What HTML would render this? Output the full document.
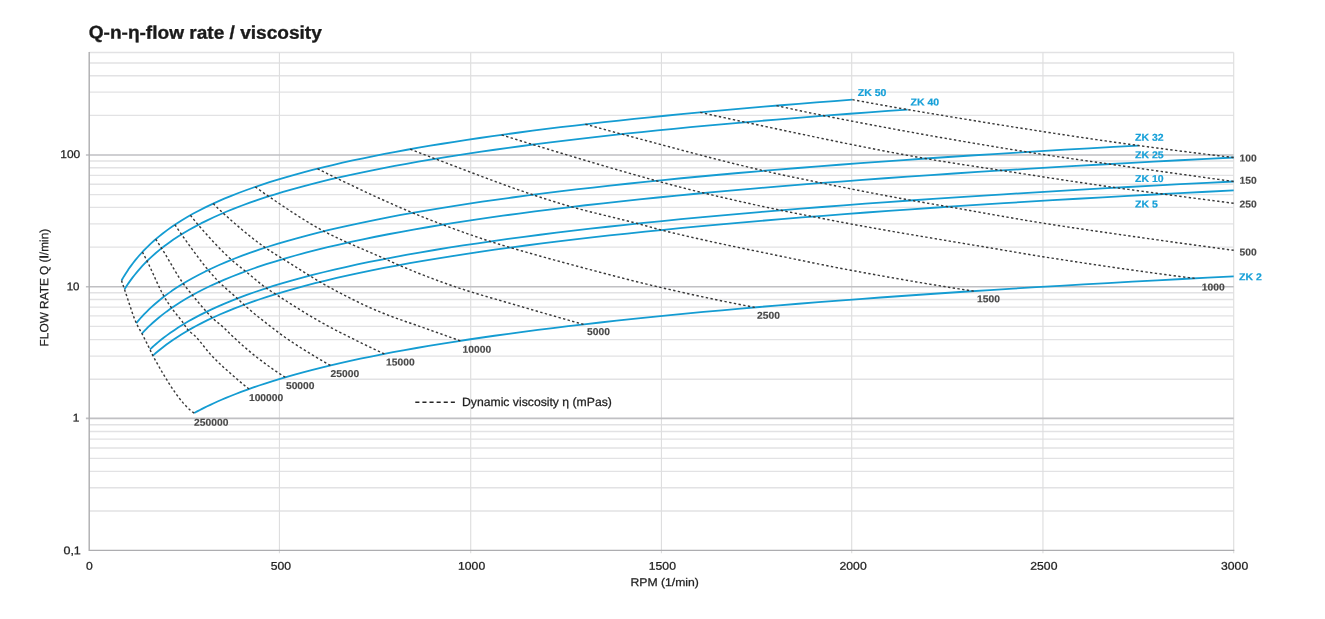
<!DOCTYPE html>
<html lang="en">
<head>
<meta charset="utf-8">
<title>Q-n-η-flow rate / viscosity</title>
<style>
html,body{margin:0;padding:0;background:#fff;}
body{width:1325px;height:619px;overflow:hidden;font-family:"Liberation Sans",Arial,Helvetica,sans-serif;}
svg{display:block;}
</style>
</head>
<body>
<svg width="1325" height="619" viewBox="0 0 1325 619">
<rect width="1325" height="619" fill="#fff"/>
<path d="M89.2 510.95H1233.7 M89.2 487.76H1233.7 M89.2 471.31H1233.7 M89.2 458.4H1233.7 M89.2 447.97H1233.7 M89.2 439.15H1233.7 M89.2 431.51H1233.7 M89.2 424.78H1233.7 M89.2 379.25H1233.7 M89.2 356.06H1233.7 M89.2 339.61H1233.7 M89.2 326.35H1233.7 M89.2 315.92H1233.7 M89.2 307.1H1233.7 M89.2 299.46H1233.7 M89.2 292.73H1233.7 M89.2 247.05H1233.7 M89.2 223.86H1233.7 M89.2 207.41H1233.7 M89.2 194.65H1233.7 M89.2 184.22H1233.7 M89.2 175.4H1233.7 M89.2 167.76H1233.7 M89.2 161.03H1233.7 M89.2 115.35H1233.7 M89.2 92.16H1233.7 M89.2 75.71H1233.7 M89.2 62.95H1233.7 M89.2 52.52H1233.7 M89.2 52.52H1233.7" stroke="#e2e2e4" stroke-width="1.35" fill="none"/>
<path d="M279.45 52.52V553.3 M470.7 52.52V553.3 M661.45 52.52V553.3 M851.7 52.52V553.3 M1042.95 52.52V553.3 M1233.7 52.52V553.3" stroke="#dededf" stroke-width="1.15" fill="none"/>
<path d="M85.9 418.4H1233.7 M85.9 286.7H1233.7 M85.9 155H1233.7" stroke="#c0c0c3" stroke-width="1.6" fill="none"/>
<path d="M89.2 51.92V550.4H1234.3" stroke="#adadb0" stroke-width="1.4" fill="none"/>
<path d="M121.5 280.54 L121.61 280.34 L121.96 279.73 L122.53 278.75 L123.33 277.39 L124.36 275.69 L125.61 273.69 L127.1 271.4 L128.81 268.87 L130.75 266.13 L132.92 263.22 L135.32 260.17 L137.95 257 L140.8 253.74 L143.88 250.42 L147.2 247.06 L150.74 243.67 L154.5 240.27 L158.5 236.87 L162.73 233.49 L167.18 230.12 L171.86 226.79 L176.77 223.49 L181.91 220.23 L187.28 217.01 L192.88 213.83 L198.7 210.71 L204.75 207.63 L211.04 204.6 L217.54 201.63 L224.28 198.7 L231.25 195.82 L238.44 193 L245.87 190.22 L253.52 187.49 L261.4 184.81 L269.51 182.18 L277.84 179.6 L286.41 177.06 L295.2 174.56 L304.23 172.11 L313.48 169.7 L322.95 167.33 L332.66 165.01 L342.6 162.72 L352.76 160.47 L363.15 158.26 L373.77 156.08 L384.62 153.94 L395.7 151.84 L407.01 149.76 L418.54 147.73 L430.31 145.72 L442.3 143.74 L454.52 141.8 L466.96 139.88 L479.64 137.99 L492.55 136.13 L505.68 134.3 L519.04 132.49 L532.63 130.71 L546.45 128.96 L560.5 127.23 L574.77 125.52 L589.28 123.84 L604.01 122.18 L618.97 120.54 L634.16 118.92 L649.58 117.33 L665.22 115.75 L681.1 114.2 L697.2 112.66 L713.53 111.14 L730.09 109.65 L746.88 108.17 L763.89 106.71 L781.14 105.26 L798.61 103.84 L816.31 102.43 L834.24 101.03 L852.4 99.66" stroke="#149cd2" stroke-width="1.8" fill="none" stroke-linejoin="round"/>
<path d="M124.5 289.36 L124.62 289.16 L124.99 288.57 L125.6 287.6 L126.46 286.27 L127.56 284.6 L128.9 282.63 L130.5 280.39 L132.33 277.9 L134.41 275.2 L136.74 272.34 L139.31 269.33 L142.12 266.2 L145.18 262.99 L148.48 259.71 L152.03 256.38 L155.82 253.03 L159.86 249.66 L164.14 246.3 L168.67 242.94 L173.44 239.61 L178.46 236.3 L183.72 233.02 L189.23 229.78 L194.98 226.59 L200.97 223.43 L207.21 220.33 L213.7 217.27 L220.43 214.26 L227.4 211.29 L234.62 208.38 L242.09 205.52 L249.8 202.7 L257.75 199.94 L265.95 197.22 L274.39 194.55 L283.08 191.93 L292.01 189.36 L301.19 186.83 L310.61 184.34 L320.27 181.89 L330.19 179.49 L340.34 177.13 L350.74 174.81 L361.39 172.53 L372.28 170.28 L383.41 168.08 L394.79 165.91 L406.42 163.77 L418.28 161.67 L430.4 159.6 L442.76 157.57 L455.36 155.56 L468.21 153.59 L481.3 151.65 L494.64 149.74 L508.22 147.85 L522.05 145.99 L536.12 144.17 L550.43 142.36 L564.99 140.58 L579.8 138.83 L594.85 137.1 L610.14 135.4 L625.68 133.72 L641.47 132.06 L657.5 130.42 L673.77 128.81 L690.29 127.21 L707.05 125.64 L724.06 124.09 L741.31 122.55 L758.81 121.04 L776.55 119.54 L794.54 118.07 L812.77 116.61 L831.25 115.16 L849.97 113.74 L868.93 112.33 L888.14 110.94 L907.6 109.56" stroke="#149cd2" stroke-width="1.8" fill="none" stroke-linejoin="round"/>
<path d="M136.3 323.06 L136.46 322.87 L136.93 322.31 L137.71 321.38 L138.81 320.1 L140.21 318.5 L141.94 316.6 L143.97 314.43 L146.32 312.03 L148.98 309.42 L151.96 306.65 L155.25 303.72 L158.85 300.69 L162.76 297.56 L166.99 294.36 L171.53 291.12 L176.39 287.84 L181.56 284.55 L187.04 281.25 L192.83 277.96 L198.94 274.69 L205.36 271.43 L212.09 268.21 L219.14 265.02 L226.5 261.87 L234.17 258.76 L242.16 255.69 L250.46 252.67 L259.07 249.69 L268 246.76 L277.23 243.88 L286.79 241.05 L296.65 238.26 L306.83 235.52 L317.32 232.83 L328.13 230.18 L339.25 227.58 L350.68 225.02 L362.42 222.51 L374.48 220.04 L386.85 217.61 L399.53 215.23 L412.53 212.88 L425.84 210.57 L439.47 208.3 L453.4 206.07 L467.65 203.88 L482.22 201.72 L497.09 199.59 L512.28 197.5 L527.78 195.44 L543.6 193.42 L559.73 191.42 L576.17 189.46 L592.93 187.52 L610 185.61 L627.38 183.74 L645.07 181.89 L663.08 180.06 L681.4 178.27 L700.04 176.49 L718.99 174.75 L738.25 173.02 L757.82 171.32 L777.71 169.65 L797.91 167.99 L818.42 166.36 L839.25 164.75 L860.39 163.16 L881.84 161.59 L903.61 160.04 L925.69 158.51 L948.08 157 L970.79 155.51 L993.81 154.03 L1017.14 152.58 L1040.79 151.14 L1064.74 149.72 L1089.02 148.31 L1113.6 146.92 L1138.5 145.55" stroke="#149cd2" stroke-width="1.8" fill="none" stroke-linejoin="round"/>
<path d="M141.9 333.54 L142.07 333.35 L142.58 332.8 L143.44 331.9 L144.63 330.65 L146.16 329.09 L148.04 327.23 L150.26 325.12 L152.82 322.77 L155.72 320.22 L158.96 317.5 L162.54 314.63 L166.47 311.65 L170.73 308.58 L175.34 305.44 L180.28 302.24 L185.57 299.01 L191.2 295.77 L197.17 292.51 L203.48 289.26 L210.14 286.03 L217.13 282.81 L224.47 279.62 L232.14 276.46 L240.16 273.34 L248.52 270.26 L257.22 267.22 L266.26 264.22 L275.65 261.27 L285.37 258.36 L295.43 255.5 L305.84 252.68 L316.59 249.91 L327.68 247.19 L339.11 244.51 L350.88 241.88 L362.99 239.29 L375.44 236.75 L388.24 234.25 L401.37 231.79 L414.85 229.37 L428.67 226.99 L442.83 224.66 L457.33 222.36 L472.17 220.1 L487.35 217.87 L502.88 215.69 L518.74 213.53 L534.95 211.41 L551.5 209.33 L568.38 207.28 L585.61 205.26 L603.19 203.27 L621.1 201.31 L639.35 199.38 L657.95 197.48 L676.88 195.6 L696.16 193.76 L715.78 191.94 L735.74 190.14 L756.04 188.38 L776.68 186.63 L797.66 184.91 L818.99 183.22 L840.65 181.54 L862.66 179.89 L885.01 178.26 L907.7 176.66 L930.73 175.07 L954.1 173.5 L977.81 171.95 L1001.86 170.43 L1026.26 168.92 L1050.99 167.43 L1076.07 165.96 L1101.49 164.5 L1127.25 163.06 L1153.35 161.64 L1179.79 160.24 L1206.58 158.85 L1233.7 157.48" stroke="#149cd2" stroke-width="1.8" fill="none" stroke-linejoin="round"/>
<path d="M149.9 349.45 L150.07 349.29 L150.58 348.82 L151.42 348.04 L152.61 346.96 L154.13 345.6 L156 343.98 L158.2 342.13 L160.74 340.06 L163.62 337.8 L166.83 335.38 L170.39 332.82 L174.29 330.14 L178.52 327.36 L183.09 324.51 L188 321.59 L193.25 318.63 L198.84 315.64 L204.77 312.62 L211.03 309.6 L217.64 306.59 L224.58 303.57 L231.86 300.58 L239.48 297.6 L247.44 294.65 L255.74 291.73 L264.38 288.83 L273.35 285.98 L282.67 283.15 L292.32 280.37 L302.31 277.62 L312.64 274.92 L323.31 272.25 L334.32 269.62 L345.66 267.03 L357.35 264.48 L369.37 261.97 L381.73 259.51 L394.43 257.07 L407.47 254.68 L420.85 252.33 L434.57 250.01 L448.62 247.73 L463.02 245.48 L477.75 243.27 L492.82 241.09 L508.23 238.95 L523.98 236.84 L540.07 234.76 L556.49 232.71 L573.26 230.7 L590.36 228.71 L607.81 226.76 L625.59 224.83 L643.71 222.93 L662.16 221.05 L680.96 219.21 L700.1 217.39 L719.57 215.59 L739.39 213.82 L759.54 212.08 L780.03 210.35 L800.86 208.66 L822.03 206.98 L843.53 205.33 L865.38 203.69 L887.56 202.08 L910.08 200.49 L932.95 198.92 L956.15 197.37 L979.68 195.83 L1003.56 194.32 L1027.78 192.83 L1052.33 191.35 L1077.23 189.89 L1102.46 188.45 L1128.03 187.02 L1153.94 185.61 L1180.19 184.22 L1206.77 182.84 L1233.7 181.48" stroke="#149cd2" stroke-width="1.8" fill="none" stroke-linejoin="round"/>
<path d="M152.8 355.68 L152.97 355.53 L153.48 355.08 L154.32 354.33 L155.5 353.3 L157.02 352.01 L158.88 350.46 L161.08 348.69 L163.61 346.71 L166.48 344.54 L169.69 342.21 L173.24 339.75 L177.12 337.16 L181.34 334.48 L185.9 331.72 L190.8 328.89 L196.04 326.02 L201.61 323.11 L207.52 320.18 L213.77 317.23 L220.36 314.29 L227.28 311.34 L234.54 308.41 L242.14 305.5 L250.08 302.6 L258.36 299.73 L266.97 296.89 L275.92 294.08 L285.21 291.31 L294.84 288.56 L304.8 285.86 L315.1 283.19 L325.74 280.56 L336.72 277.96 L348.04 275.4 L359.69 272.89 L371.68 270.4 L384.01 267.96 L396.68 265.55 L409.68 263.19 L423.03 260.85 L436.71 258.56 L450.72 256.29 L465.08 254.07 L479.77 251.87 L494.8 249.71 L510.17 247.59 L525.88 245.49 L541.92 243.43 L558.31 241.39 L575.03 239.39 L592.08 237.42 L609.48 235.47 L627.21 233.55 L645.29 231.66 L663.69 229.8 L682.44 227.97 L701.53 226.15 L720.95 224.37 L740.71 222.61 L760.81 220.87 L781.24 219.15 L802.02 217.46 L823.13 215.79 L844.58 214.15 L866.36 212.52 L888.49 210.91 L910.95 209.33 L933.75 207.76 L956.89 206.22 L980.36 204.69 L1004.18 203.18 L1028.33 201.69 L1052.82 200.22 L1077.65 198.76 L1102.81 197.33 L1128.31 195.91 L1154.15 194.5 L1180.33 193.11 L1206.85 191.74 L1233.7 190.38" stroke="#149cd2" stroke-width="1.8" fill="none" stroke-linejoin="round"/>
<path d="M194.1 413.06 L194.26 412.98 L194.75 412.71 L195.56 412.27 L196.7 411.66 L198.16 410.89 L199.95 409.96 L202.06 408.88 L204.5 407.66 L207.26 406.31 L210.34 404.83 L213.75 403.24 L217.49 401.55 L221.55 399.77 L225.94 397.9 L230.65 395.97 L235.68 393.97 L241.04 391.91 L246.73 389.81 L252.74 387.67 L259.07 385.49 L265.73 383.29 L272.72 381.07 L280.03 378.84 L287.66 376.6 L295.62 374.35 L303.91 372.1 L312.52 369.85 L321.45 367.6 L330.71 365.37 L340.29 363.14 L350.2 360.93 L360.44 358.73 L370.99 356.54 L381.88 354.38 L393.09 352.23 L404.62 350.1 L416.48 347.99 L428.66 345.9 L441.17 343.83 L454 341.78 L467.16 339.75 L480.64 337.75 L494.45 335.76 L508.58 333.8 L523.04 331.86 L537.82 329.95 L552.92 328.05 L568.36 326.18 L584.11 324.33 L600.19 322.5 L616.6 320.69 L633.33 318.91 L650.39 317.14 L667.77 315.4 L685.47 313.67 L703.5 311.97 L721.86 310.29 L740.54 308.62 L759.54 306.98 L778.88 305.35 L798.53 303.74 L818.51 302.15 L838.81 300.58 L859.44 299.03 L880.4 297.5 L901.68 295.98 L923.28 294.48 L945.21 292.99 L967.46 291.52 L990.04 290.07 L1012.95 288.64 L1036.18 287.22 L1059.73 285.81 L1083.61 284.42 L1107.81 283.05 L1132.34 281.68 L1157.19 280.34 L1182.37 279 L1207.87 277.69 L1233.7 276.38" stroke="#149cd2" stroke-width="1.8" fill="none" stroke-linejoin="round"/>
<g stroke="#383838" stroke-width="1.42" fill="none">
<path d="M121.5 280.54 L122.5 283.49 L123.5 286.44 L124.5 289.36 L125.57 292.52 L126.65 295.77 L127.72 299.05 L128.79 302.35 L129.86 305.62 L130.94 308.85 L132.01 311.99 L133.08 315.01 L134.15 317.88 L135.23 320.58 L136.3 323.06 L138.17 326.81 L140.03 330.14 L141.9 333.54 L143.5 336.63 L145.1 339.76 L146.7 342.94 L148.3 346.16 L149.9 349.45 L151.35 352.67 L152.8 355.68 L154.6 358.91 L156.39 362.1 L158.19 365.27 L159.98 368.41 L161.78 371.5 L163.57 374.54 L165.37 377.53 L167.17 380.46 L168.96 383.32 L170.76 386.11 L172.55 388.83 L174.35 391.46 L176.14 393.99 L177.94 396.44 L179.73 398.78 L181.53 401.01 L183.33 403.12 L185.12 405.12 L186.92 406.98 L188.71 408.72 L190.51 410.32 L192.3 411.77 L194.1 413.06" stroke-dasharray="2.351 2.351"/>
<path d="M142.4 252 L143.97 254.97 L145.53 257.98 L147.1 261.06 L148.41 263.71 L149.72 266.45 L151.02 269.26 L152.33 272.13 L153.64 275.01 L154.95 277.91 L156.25 280.78 L157.56 283.62 L158.87 286.41 L160.18 289.11 L161.48 291.71 L162.79 294.19 L164.1 296.53 L165.97 299.65 L167.85 302.55 L169.72 305.31 L171.6 307.97 L173.67 310.77 L175.73 313.4 L177.8 315.95 L179.87 318.5 L181.93 321.14 L184 323.95 L186.1 327.35 L188.2 330.37 L191.1 332.79 L194 335 L196 336.97 L198 339.15 L200 341.51 L202 343.97 L204 346.49 L206 349.01 L208 351.47 L210 353.82 L212 356 L214.29 358.34 L216.58 360.63 L218.87 362.85 L221.16 365.02 L223.45 367.15 L225.75 369.24 L228.04 371.29 L230.33 373.32 L232.62 375.33 L234.91 377.32 L237.2 379.3 L239.56 381.31 L241.92 383.29 L244.28 385.22 L246.64 387.12 L249 388.99" stroke-dasharray="2.345 2.345"/>
<path d="M155.7 239.23 L157.67 242.21 L159.63 245.22 L161.6 248.27 L163.26 250.93 L164.92 253.65 L166.58 256.44 L168.25 259.26 L169.91 262.11 L171.57 264.96 L173.23 267.79 L174.89 270.6 L176.55 273.36 L178.22 276.05 L179.88 278.65 L181.54 281.15 L183.2 283.54 L185.5 286.62 L187.8 289.52 L190.1 292.31 L192.4 295.1 L194.41 297.56 L196.43 300 L198.44 302.43 L200.46 304.83 L202.47 307.19 L204.49 309.51 L206.5 311.77 L209.4 314.96 L212.3 317.91 L214.8 320.15 L217.3 322.2 L219.8 324.22 L222.3 326.35 L224.6 328.46 L226.9 330.65 L229.2 332.9 L231.5 335.15 L233.8 337.36 L236.1 339.5 L238.49 341.67 L240.88 343.82 L243.26 345.95 L245.65 348.05 L248.04 350.11 L250.42 352.13 L252.81 354.1 L255.2 356 L257.71 357.95 L260.22 359.88 L262.73 361.78 L265.23 363.65 L267.74 365.49 L270.25 367.29 L272.76 369.06 L275.27 370.79 L277.77 372.47 L280.28 374.12 L282.79 375.72 L285.3 377.28" stroke-dasharray="2.364 2.364"/>
<path d="M174.9 224.73 L177.1 228 L179.3 231.23 L181.5 234.38 L183.41 237.07 L185.31 239.75 L187.22 242.42 L189.13 245.08 L191.04 247.72 L192.94 250.34 L194.85 252.94 L196.76 255.5 L198.66 258.03 L200.57 260.53 L202.48 262.98 L204.39 265.39 L206.29 267.75 L208.2 270.05 L210.36 272.6 L212.52 275.07 L214.68 277.46 L216.84 279.77 L219 281.98 L221.29 284.21 L223.57 286.33 L225.86 288.38 L228.15 290.37 L230.44 292.35 L232.73 294.34 L235.01 296.36 L237.3 298.44 L239.53 300.57 L241.77 302.73 L244 304.81 L246.4 306.92 L248.8 309 L251.2 311.03 L253.6 313.03 L256 315 L258.4 316.94 L260.8 318.85 L263.2 320.75 L265.6 322.63 L268 324.49 L270.4 326.35 L272.94 328.31 L275.49 330.25 L278.03 332.17 L280.57 334.06 L283.11 335.92 L285.66 337.73 L288.2 339.5 L290.8 341.26 L293.4 343 L296 344.69 L298.6 346.36 L301.2 348.01 L303.8 349.64 L306.4 351.25 L309 352.84 L311.6 354.42 L314.2 356 L316.9 357.62 L319.6 359.23 L322.3 360.81 L325 362.37 L327.7 363.91 L330.4 365.44" stroke-dasharray="2.382 2.382"/>
<path d="M190.4 215.22 L192.35 217.7 L194.3 220.16 L196.25 222.56 L198.2 224.87 L200.28 227.27 L202.36 229.64 L204.44 232 L206.52 234.33 L208.61 236.64 L210.69 238.93 L212.77 241.18 L214.85 243.4 L216.93 245.59 L219.01 247.74 L221.09 249.86 L223.18 251.94 L225.26 253.98 L227.34 255.97 L229.42 257.92 L231.5 259.82 L233.85 261.88 L236.2 263.84 L238.55 265.73 L240.9 267.58 L243.25 269.44 L245.6 271.32 L248.2 273.46 L250.8 275.64 L253.4 277.83 L256 280.01 L258.6 282.16 L261.2 284.25 L263.8 286.26 L266.4 288.18 L269.47 290.27 L272.53 292.24 L275.6 294.18 L278.26 295.89 L280.92 297.6 L283.58 299.31 L286.25 301.01 L288.91 302.71 L291.57 304.4 L294.23 306.09 L296.89 307.76 L299.55 309.42 L302.22 311.06 L304.88 312.69 L307.54 314.31 L310.2 315.9 L312.81 317.45 L315.43 318.98 L318.04 320.5 L320.66 322 L323.27 323.47 L325.89 324.92 L328.5 326.35 L331.37 327.88 L334.23 329.39 L337.1 330.88 L339.97 332.34 L342.83 333.79 L345.7 335.23 L348.57 336.66 L351.43 338.08 L354.3 339.5 L357.03 340.85 L359.75 342.19 L362.48 343.52 L365.21 344.84 L367.94 346.16 L370.66 347.47 L373.39 348.77 L376.12 350.07 L378.85 351.36 L381.57 352.63 L384.3 353.91" stroke-dasharray="2.385 2.385"/>
<path d="M213.2 203.6 L215.67 206.04 L218.15 208.46 L220.62 210.82 L223.1 213.1 L225.44 215.2 L227.78 217.29 L230.12 219.36 L232.46 221.42 L234.79 223.46 L237.13 225.48 L239.47 227.48 L241.81 229.46 L244.15 231.42 L246.49 233.35 L248.83 235.25 L251.17 237.12 L253.51 238.96 L255.84 240.78 L258.18 242.55 L260.52 244.3 L262.86 246 L265.2 247.67 L267.76 249.42 L270.31 251.1 L272.87 252.72 L275.43 254.3 L277.99 255.86 L280.54 257.43 L283.1 259.03 L285.76 260.7 L288.42 262.38 L291.08 264.05 L293.74 265.73 L296.4 267.39 L299.06 269.06 L301.72 270.72 L304.38 272.38 L307.04 274.03 L309.7 275.67 L312.27 277.27 L314.85 278.87 L317.43 280.44 L320 281.96 L322.73 283.53 L325.47 285.07 L328.2 286.59 L330.93 288.09 L333.67 289.58 L336.4 291.04 L339.13 292.49 L341.87 293.92 L344.6 295.33 L347.33 296.73 L350.07 298.12 L352.8 299.5 L355.98 301.08 L359.16 302.64 L362.34 304.17 L365.52 305.66 L368.7 307.1 L371.74 308.44 L374.79 309.75 L377.83 311.03 L380.87 312.29 L383.91 313.52 L386.96 314.72 L390 315.9 L392.96 317.02 L395.92 318.1 L398.88 319.16 L401.84 320.2 L404.8 321.23 L407.76 322.25 L410.72 323.27 L413.68 324.28 L416.64 325.31 L419.6 326.35 L422.51 327.38 L425.41 328.41 L428.32 329.44 L431.23 330.47 L434.14 331.5 L437.04 332.53 L439.95 333.56 L442.86 334.6 L445.76 335.63 L448.67 336.66 L451.58 337.69 L454.49 338.73 L457.39 339.76 L460.3 340.8" stroke-dasharray="2.358 2.358"/>
<path d="M255.3 186.88 L257.96 188.82 L260.62 190.75 L263.28 192.66 L265.94 194.54 L268.6 196.37 L271.23 198.16 L273.86 199.94 L276.49 201.72 L279.11 203.49 L281.74 205.26 L284.37 207.02 L287 208.77 L289.63 210.51 L292.26 212.24 L294.89 213.95 L297.51 215.64 L300.14 217.31 L302.77 218.97 L305.4 220.6 L308.03 222.2 L310.66 223.78 L313.29 225.33 L315.91 226.86 L318.54 228.35 L321.17 229.81 L323.8 231.23 L326.78 232.78 L329.75 234.28 L332.73 235.73 L335.7 237.15 L338.68 238.53 L341.65 239.89 L344.62 241.25 L347.6 242.6 L350.48 243.9 L353.37 245.19 L356.25 246.45 L359.14 247.7 L362.02 248.93 L364.91 250.16 L367.79 251.38 L370.68 252.61 L373.56 253.84 L376.45 255.07 L379.33 256.31 L382.22 257.57 L385.1 258.85 L387.86 260.11 L390.62 261.39 L393.38 262.68 L396.14 263.94 L398.9 265.14 L401.7 266.33 L404.51 267.5 L407.31 268.67 L410.12 269.83 L412.92 270.97 L415.73 272.1 L418.53 273.23 L421.34 274.34 L424.14 275.44 L426.95 276.53 L429.75 277.6 L432.56 278.66 L435.37 279.72 L438.17 280.75 L440.98 281.78 L443.78 282.79 L446.58 283.79 L449.39 284.77 L452.19 285.74 L455 286.7 L457.96 287.69 L460.91 288.67 L463.87 289.62 L466.83 290.57 L469.78 291.5 L472.74 292.42 L475.7 293.32 L478.65 294.22 L481.61 295.11 L484.57 295.98 L487.52 296.85 L490.48 297.72 L493.43 298.58 L496.39 299.43 L499.35 300.28 L502.3 301.13 L505.26 301.98 L508.22 302.83 L511.17 303.68 L514.13 304.53 L517.09 305.38 L520.04 306.24 L523 307.1 L526.02 307.98 L529.05 308.87 L532.08 309.75 L535.1 310.63 L538.12 311.5 L541.15 312.38 L544.17 313.25 L547.2 314.12 L550.23 314.99 L553.25 315.85 L556.27 316.72 L559.3 317.58 L562.33 318.44 L565.35 319.3 L568.38 320.15 L571.4 321.01 L574.42 321.86 L577.45 322.71 L580.48 323.56 L583.5 324.4" stroke-dasharray="2.372 2.372"/>
<path d="M317.5 168.68 L320.19 170.05 L322.87 171.41 L325.56 172.76 L328.24 174.11 L330.93 175.44 L333.61 176.76 L336.3 178.06 L339.13 179.42 L341.96 180.77 L344.79 182.12 L347.62 183.47 L350.45 184.82 L353.28 186.16 L356.11 187.49 L358.94 188.82 L361.77 190.15 L364.6 191.47 L367.43 192.79 L370.26 194.09 L373.09 195.4 L375.91 196.7 L378.74 197.99 L381.57 199.27 L384.4 200.55 L387.23 201.81 L390.06 203.08 L392.89 204.33 L395.72 205.57 L398.55 206.81 L401.38 208.04 L404.21 209.25 L407.04 210.46 L409.87 211.66 L412.7 212.85 L415.7 214.1 L418.7 215.33 L421.7 216.54 L424.7 217.74 L427.7 218.93 L430.7 220.1 L433.7 221.26 L436.7 222.41 L439.7 223.55 L442.7 224.68 L445.68 225.79 L448.65 226.89 L451.62 227.99 L454.6 229.08 L457.57 230.16 L460.55 231.23 L463.52 232.3 L466.5 233.36 L469.48 234.41 L472.45 235.45 L475.43 236.47 L478.4 237.49 L481.38 238.5 L484.35 239.5 L487.32 240.48 L490.3 241.45 L493.63 242.52 L496.97 243.56 L500.3 244.59 L503.63 245.59 L506.97 246.59 L510.3 247.57 L513.25 248.43 L516.2 249.29 L519.16 250.15 L522.11 251 L525.06 251.84 L528.01 252.68 L530.96 253.52 L533.91 254.35 L536.87 255.18 L539.82 256.01 L542.77 256.83 L545.72 257.65 L548.67 258.47 L551.63 259.28 L554.58 260.09 L557.53 260.9 L560.48 261.7 L563.43 262.5 L566.39 263.3 L569.34 264.09 L572.29 264.89 L575.24 265.68 L578.19 266.47 L581.14 267.25 L584.1 268.04 L587.05 268.82 L590 269.6 L592.93 270.37 L595.86 271.15 L598.79 271.92 L601.72 272.69 L604.65 273.47 L607.58 274.23 L610.51 275 L613.44 275.77 L616.37 276.53 L619.3 277.29 L622.23 278.04 L625.17 278.79 L628.1 279.54 L631.03 280.28 L633.96 281.02 L636.89 281.75 L639.82 282.48 L642.75 283.2 L645.68 283.91 L648.61 284.62 L651.54 285.32 L654.47 286.01 L657.4 286.7 L660.35 287.38 L663.3 288.07 L666.25 288.75 L669.21 289.42 L672.16 290.09 L675.11 290.76 L678.06 291.43 L681.01 292.09 L683.96 292.75 L686.92 293.41 L689.87 294.06 L692.82 294.71 L695.77 295.35 L698.72 296 L701.67 296.63 L704.62 297.27 L707.58 297.9 L710.53 298.52 L713.48 299.15 L716.43 299.76 L719.38 300.38 L722.33 300.99 L725.28 301.59 L728.24 302.19 L731.19 302.79 L734.14 303.38 L737.09 303.97 L740.04 304.55 L742.99 305.12 L745.95 305.7 L748.9 306.26 L751.85 306.83 L754.8 307.38" stroke-dasharray="2.386 2.386"/>
<path d="M410.2 149.19 L413.32 150.4 L416.45 151.62 L419.57 152.82 L422.7 154.03 L425.82 155.23 L428.95 156.43 L432.07 157.62 L435.2 158.8 L438.07 159.89 L440.95 160.98 L443.82 162.07 L446.69 163.16 L449.57 164.26 L452.44 165.35 L455.31 166.44 L458.19 167.54 L461.06 168.63 L463.94 169.73 L466.81 170.82 L469.68 171.91 L472.56 173 L475.43 174.08 L478.3 175.17 L481.18 176.25 L484.05 177.33 L486.92 178.4 L489.8 179.47 L492.67 180.54 L495.54 181.6 L498.42 182.65 L501.29 183.7 L504.16 184.75 L507.04 185.78 L509.91 186.82 L512.79 187.84 L515.66 188.86 L518.53 189.86 L521.41 190.87 L524.28 191.86 L527.15 192.84 L530.03 193.81 L532.9 194.78 L535.88 195.77 L538.87 196.76 L541.85 197.74 L544.84 198.7 L547.82 199.66 L550.81 200.61 L553.79 201.55 L556.78 202.47 L559.76 203.39 L562.75 204.28 L565.73 205.17 L568.72 206.03 L571.7 206.88 L574.7 207.72 L577.69 208.54 L580.69 209.34 L583.68 210.13 L586.68 210.9 L589.67 211.67 L592.67 212.42 L595.66 213.17 L598.66 213.9 L601.65 214.64 L604.65 215.37 L607.65 216.09 L610.64 216.82 L613.64 217.55 L616.63 218.27 L619.63 219.01 L622.62 219.74 L625.62 220.49 L628.61 221.24 L631.61 222 L634.6 222.78 L637.6 223.56 L640.56 224.36 L643.52 225.18 L646.49 226.01 L649.45 226.85 L652.41 227.68 L655.38 228.49 L658.34 229.28 L661.3 230.04 L664.29 230.78 L667.29 231.52 L670.28 232.25 L673.27 232.97 L676.27 233.68 L679.26 234.39 L682.25 235.09 L685.24 235.79 L688.24 236.48 L691.23 237.17 L694.22 237.85 L697.22 238.53 L700.21 239.2 L703.2 239.87 L706.2 240.53 L709.19 241.19 L712.18 241.84 L715.17 242.49 L718.17 243.14 L721.16 243.78 L724.15 244.42 L727.15 245.06 L730.14 245.69 L733.13 246.33 L736.13 246.95 L739.12 247.58 L742.11 248.21 L745.1 248.83 L748.1 249.45 L751.09 250.07 L754.08 250.69 L757.08 251.31 L760.07 251.93 L763.06 252.54 L766.06 253.16 L769.05 253.78 L772.04 254.39 L775.03 255.01 L778.03 255.63 L781.02 256.24 L784.01 256.86 L787.01 257.48 L790 258.1 L792.96 258.71 L795.91 259.33 L798.87 259.94 L801.83 260.55 L804.79 261.16 L807.74 261.77 L810.7 262.37 L813.66 262.98 L816.61 263.58 L819.57 264.18 L822.53 264.77 L825.49 265.36 L828.44 265.95 L831.4 266.54 L834.36 267.12 L837.31 267.69 L840.27 268.27 L843.23 268.83 L846.19 269.39 L849.14 269.95 L852.1 270.5 L855.07 271.05 L858.04 271.59 L861 272.14 L863.97 272.68 L866.94 273.22 L869.91 273.76 L872.88 274.3 L875.85 274.84 L878.81 275.37 L881.78 275.9 L884.75 276.43 L887.72 276.96 L890.69 277.48 L893.66 278.01 L896.62 278.53 L899.59 279.05 L902.56 279.56 L905.53 280.08 L908.5 280.59 L911.47 281.1 L914.43 281.6 L917.4 282.1 L920.37 282.61 L923.34 283.1 L926.31 283.6 L929.28 284.09 L932.24 284.58 L935.21 285.07 L938.18 285.55 L941.15 286.03 L944.12 286.51 L947.09 286.99 L950.05 287.46 L953.02 287.93 L955.99 288.39 L958.96 288.85 L961.93 289.31 L964.9 289.77 L967.86 290.22 L970.83 290.67 L973.8 291.11" stroke-dasharray="2.378 2.378"/>
<path d="M501.6 134.86 L504.73 135.85 L507.86 136.83 L510.99 137.81 L514.12 138.79 L517.25 139.76 L520.38 140.73 L523.51 141.7 L526.64 142.67 L529.77 143.63 L532.9 144.58 L535.84 145.47 L538.78 146.36 L541.71 147.25 L544.65 148.14 L547.59 149.03 L550.53 149.92 L553.47 150.81 L556.4 151.7 L559.34 152.59 L562.28 153.47 L565.22 154.36 L568.16 155.25 L571.1 156.13 L574.03 157.01 L576.97 157.89 L579.91 158.77 L582.85 159.65 L585.79 160.53 L588.72 161.4 L591.66 162.27 L594.6 163.14 L597.54 164.01 L600.48 164.88 L603.41 165.74 L606.35 166.6 L609.29 167.46 L612.23 168.31 L615.17 169.17 L618.1 170.02 L621.04 170.86 L623.98 171.71 L626.92 172.55 L629.86 173.38 L632.8 174.22 L635.73 175.05 L638.67 175.87 L641.61 176.69 L644.55 177.51 L647.49 178.33 L650.42 179.14 L653.36 179.94 L656.3 180.74 L659.27 181.55 L662.25 182.35 L665.22 183.15 L668.2 183.95 L671.17 184.73 L674.15 185.52 L677.12 186.3 L680.1 187.07 L683.07 187.84 L686.05 188.6 L689.02 189.35 L692 190.1 L694.98 190.85 L697.95 191.58 L700.92 192.31 L703.9 193.03 L706.86 193.75 L709.82 194.45 L712.77 195.16 L715.73 195.86 L718.69 196.55 L721.65 197.25 L724.6 197.93 L727.56 198.62 L730.52 199.3 L733.48 199.98 L736.43 200.65 L739.39 201.32 L742.35 201.98 L745.31 202.64 L748.27 203.3 L751.22 203.96 L754.18 204.61 L757.14 205.25 L760.1 205.89 L763.05 206.53 L766.01 207.17 L768.97 207.8 L771.93 208.43 L774.88 209.05 L777.84 209.67 L780.8 210.29 L784 210.95 L787.2 211.6 L790.4 212.24 L793.6 212.87 L796.8 213.5 L800 214.12 L803.2 214.74 L806.4 215.36 L809.6 215.98 L812.8 216.6 L815.82 217.2 L818.85 217.79 L821.87 218.38 L824.89 218.98 L827.92 219.57 L830.94 220.16 L833.96 220.75 L836.98 221.34 L840.01 221.92 L843.03 222.5 L846.05 223.07 L849.08 223.64 L852.1 224.2 L855.06 224.74 L858.02 225.28 L860.97 225.82 L863.93 226.35 L866.89 226.89 L869.85 227.42 L872.81 227.95 L875.76 228.47 L878.72 229 L881.68 229.52 L884.64 230.04 L887.6 230.56 L890.55 231.07 L893.51 231.59 L896.47 232.1 L899.43 232.61 L902.39 233.12 L905.34 233.63 L908.3 234.14 L911.26 234.64 L914.22 235.15 L917.18 235.65 L920.13 236.15 L923.09 236.65 L926.05 237.15 L929.01 237.65 L931.97 238.15 L934.92 238.65 L937.88 239.15 L940.84 239.64 L943.8 240.14 L946.76 240.63 L949.71 241.13 L952.67 241.62 L955.63 242.12 L958.59 242.61 L961.55 243.11 L964.5 243.6 L967.46 244.09 L970.42 244.59 L973.38 245.08 L976.34 245.58 L979.29 246.07 L982.25 246.57 L985.21 247.06 L988.17 247.56 L991.13 248.06 L994.08 248.55 L997.04 249.05 L1000 249.55 L1003.06 250.07 L1006.11 250.59 L1009.17 251.11 L1012.23 251.63 L1015.29 252.15 L1018.34 252.67 L1021.4 253.19 L1024.46 253.71 L1027.51 254.22 L1030.57 254.73 L1033.63 255.23 L1036.69 255.73 L1039.74 256.22 L1042.8 256.7 L1045.78 257.16 L1048.76 257.63 L1051.74 258.09 L1054.71 258.55 L1057.69 259.01 L1060.67 259.47 L1063.65 259.93 L1066.63 260.39 L1069.61 260.84 L1072.58 261.3 L1075.56 261.75 L1078.54 262.2 L1081.52 262.65 L1084.5 263.1 L1087.48 263.55 L1090.45 264 L1093.43 264.44 L1096.41 264.88 L1099.39 265.32 L1102.37 265.76 L1105.35 266.2 L1108.33 266.64 L1111.3 267.07 L1114.28 267.51 L1117.26 267.94 L1120.24 268.37 L1123.22 268.79 L1126.2 269.22 L1129.17 269.64 L1132.15 270.06 L1135.13 270.48 L1138.11 270.9 L1141.09 271.31 L1144.07 271.72 L1147.05 272.13 L1150.02 272.54 L1153 272.95 L1155.98 273.35 L1158.96 273.75 L1161.94 274.15 L1164.92 274.55 L1167.89 274.94 L1170.87 275.33 L1173.85 275.72 L1176.83 276.11 L1179.81 276.49 L1182.79 276.87 L1185.76 277.25 L1188.74 277.62 L1191.72 277.99 L1194.7 278.36" stroke-dasharray="2.371 2.371"/>
<path d="M585.4 124.28 L588.43 125.11 L591.47 125.94 L594.5 126.77 L597.53 127.59 L600.57 128.42 L603.6 129.24 L606.63 130.07 L609.67 130.88 L612.7 131.7 L615.73 132.52 L618.77 133.33 L621.8 134.13 L624.76 134.92 L627.72 135.71 L630.69 136.5 L633.65 137.29 L636.61 138.08 L639.57 138.87 L642.54 139.67 L645.5 140.46 L648.46 141.25 L651.42 142.05 L654.39 142.84 L657.35 143.64 L660.31 144.43 L663.27 145.23 L666.24 146.02 L669.2 146.81 L672.16 147.6 L675.12 148.39 L678.09 149.18 L681.05 149.97 L684.01 150.75 L686.97 151.54 L689.94 152.32 L692.9 153.1 L695.86 153.88 L698.82 154.66 L701.79 155.43 L704.75 156.2 L707.71 156.97 L710.67 157.73 L713.64 158.49 L716.6 159.25 L719.56 160.01 L722.52 160.76 L725.49 161.5 L728.45 162.25 L731.41 162.99 L734.38 163.72 L737.34 164.45 L740.3 165.18 L743.26 165.9 L746.23 166.61 L749.19 167.32 L752.15 168.03 L755.11 168.73 L758.08 169.43 L761.04 170.11 L764 170.8 L767.03 171.49 L770.06 172.17 L773.09 172.85 L776.13 173.52 L779.16 174.18 L782.19 174.84 L785.22 175.49 L788.25 176.14 L791.28 176.78 L794.32 177.41 L797.35 178.05 L800.38 178.68 L803.41 179.3 L806.44 179.92 L809.47 180.55 L812.51 181.16 L815.54 181.78 L818.57 182.4 L821.6 183.01 L824.6 183.62 L827.59 184.23 L830.59 184.83 L833.59 185.43 L836.58 186.04 L839.58 186.63 L842.58 187.23 L845.57 187.83 L848.57 188.42 L851.57 189.02 L854.56 189.61 L857.56 190.2 L860.56 190.78 L863.55 191.37 L866.55 191.95 L869.55 192.53 L872.54 193.11 L875.54 193.68 L878.54 194.26 L881.53 194.83 L884.53 195.4 L887.53 195.96 L890.52 196.52 L893.52 197.09 L896.52 197.64 L899.51 198.2 L902.51 198.75 L905.51 199.3 L908.5 199.85 L911.5 200.39 L914.58 200.94 L917.67 201.49 L920.75 202.03 L923.83 202.56 L926.92 203.09 L930 203.62 L933.08 204.14 L936.17 204.67 L939.25 205.19 L942.33 205.72 L945.42 206.24 L948.5 206.77 L951.54 207.3 L954.58 207.83 L957.63 208.36 L960.67 208.9 L963.71 209.43 L966.75 209.97 L969.79 210.51 L972.84 211.05 L975.88 211.59 L978.92 212.13 L981.96 212.67 L985 213.21 L988.05 213.75 L991.09 214.29 L994.13 214.83 L997.17 215.36 L1000.21 215.9 L1003.25 216.43 L1006.3 216.97 L1009.34 217.5 L1012.38 218.02 L1015.42 218.55 L1018.46 219.07 L1021.51 219.59 L1024.55 220.1 L1027.59 220.61 L1030.63 221.12 L1033.67 221.62 L1036.72 222.12 L1039.76 222.61 L1042.8 223.1 L1045.81 223.58 L1048.81 224.05 L1051.82 224.52 L1054.83 224.99 L1057.83 225.45 L1060.84 225.91 L1063.85 226.37 L1066.86 226.83 L1069.86 227.28 L1072.87 227.73 L1075.88 228.18 L1078.88 228.62 L1081.89 229.07 L1084.9 229.51 L1087.9 229.95 L1090.91 230.39 L1093.92 230.82 L1096.92 231.26 L1099.93 231.69 L1102.94 232.13 L1105.94 232.56 L1108.95 232.99 L1111.96 233.42 L1114.97 233.85 L1117.97 234.28 L1120.98 234.71 L1123.99 235.14 L1126.99 235.57 L1130 236 L1133.05 236.44 L1136.1 236.87 L1139.15 237.3 L1142.2 237.74 L1145.25 238.17 L1148.3 238.6 L1151.35 239.03 L1154.4 239.46 L1157.45 239.89 L1160.5 240.32 L1163.55 240.74 L1166.6 241.17 L1169.65 241.59 L1172.7 242.02 L1175.75 242.44 L1178.8 242.86 L1181.85 243.29 L1184.9 243.71 L1187.95 244.13 L1191 244.54 L1194.05 244.96 L1197.1 245.38 L1200.15 245.79 L1203.2 246.21 L1206.25 246.62 L1209.3 247.03 L1212.35 247.45 L1215.4 247.86 L1218.45 248.27 L1221.5 248.68 L1224.55 249.08 L1227.6 249.49 L1230.65 249.9 L1233.7 250.3" stroke-dasharray="2.370 2.370"/>
<path d="M700.2 112.38 L703.2 113.04 L706.2 113.71 L709.2 114.38 L712.2 115.04 L715.2 115.7 L718.2 116.37 L721.2 117.03 L724.2 117.68 L727.2 118.34 L730.2 118.99 L733.2 119.65 L736.2 120.29 L739.2 120.94 L742.2 121.58 L745.2 122.21 L748.16 122.84 L751.11 123.46 L754.07 124.09 L757.02 124.72 L759.98 125.35 L762.93 125.97 L765.89 126.6 L768.85 127.23 L771.8 127.86 L774.76 128.48 L777.71 129.11 L780.67 129.74 L783.62 130.37 L786.58 131 L789.54 131.62 L792.49 132.25 L795.45 132.87 L798.4 133.5 L801.36 134.12 L804.31 134.75 L807.27 135.37 L810.23 135.99 L813.18 136.61 L816.14 137.23 L819.09 137.85 L822.05 138.46 L825 139.08 L827.96 139.69 L830.92 140.3 L833.87 140.91 L836.83 141.52 L839.78 142.13 L842.74 142.73 L845.7 143.34 L848.65 143.94 L851.61 144.54 L854.56 145.13 L857.52 145.72 L860.47 146.32 L863.43 146.9 L866.39 147.49 L869.34 148.07 L872.3 148.65 L875.25 149.23 L878.21 149.81 L881.16 150.38 L884.12 150.95 L887.08 151.51 L890.03 152.07 L892.99 152.63 L895.94 153.19 L898.9 153.74 L901.85 154.28 L904.81 154.83 L907.77 155.37 L910.72 155.91 L913.68 156.44 L916.63 156.97 L919.59 157.49 L922.54 158.01 L925.5 158.52 L928.54 159.05 L931.57 159.57 L934.61 160.08 L937.64 160.58 L940.68 161.08 L943.72 161.57 L946.75 162.06 L949.79 162.55 L952.82 163.02 L955.86 163.5 L958.9 163.97 L961.93 164.44 L964.97 164.91 L968 165.38 L971.04 165.84 L974.08 166.3 L977.11 166.76 L980.15 167.22 L983.18 167.68 L986.22 168.14 L989.26 168.6 L992.29 169.06 L995.33 169.53 L998.36 169.99 L1001.4 170.46 L1004.42 170.92 L1007.43 171.39 L1010.45 171.85 L1013.46 172.31 L1016.48 172.78 L1019.49 173.24 L1022.51 173.71 L1025.53 174.17 L1028.54 174.64 L1031.56 175.1 L1034.57 175.57 L1037.59 176.03 L1040.61 176.49 L1043.62 176.96 L1046.64 177.42 L1049.65 177.88 L1052.67 178.34 L1055.68 178.8 L1058.7 179.25 L1061.72 179.71 L1064.73 180.17 L1067.75 180.62 L1070.76 181.08 L1073.78 181.53 L1076.79 181.98 L1079.81 182.43 L1082.83 182.88 L1085.84 183.32 L1088.86 183.77 L1091.87 184.21 L1094.89 184.65 L1097.91 185.09 L1100.92 185.53 L1103.94 185.97 L1106.95 186.4 L1109.97 186.83 L1112.98 187.26 L1116 187.69 L1119.13 188.13 L1122.27 188.56 L1125.4 189 L1128.53 189.42 L1131.67 189.85 L1134.8 190.27 L1137.93 190.69 L1141.07 191.11 L1144.2 191.53 L1147.33 191.95 L1150.47 192.36 L1153.6 192.78 L1156.73 193.19 L1159.87 193.61 L1163 194.03 L1166.07 194.44 L1169.15 194.84 L1172.22 195.25 L1175.3 195.66 L1178.37 196.07 L1181.44 196.47 L1184.52 196.88 L1187.59 197.29 L1190.67 197.69 L1193.74 198.1 L1196.81 198.5 L1199.89 198.9 L1202.96 199.31 L1206.03 199.71 L1209.11 200.11 L1212.18 200.51 L1215.26 200.91 L1218.33 201.31 L1221.4 201.71 L1224.48 202.11 L1227.55 202.51 L1230.63 202.9 L1233.7 203.3" stroke-dasharray="2.385 2.385"/>
<path d="M776.5 105.65 L779.48 106.3 L782.45 106.94 L785.42 107.59 L788.4 108.24 L791.38 108.88 L794.35 109.53 L797.33 110.17 L800.3 110.81 L803.27 111.44 L806.25 112.07 L809.23 112.69 L812.2 113.31 L815.18 113.92 L818.15 114.53 L821.12 115.13 L824.1 115.72 L827.08 116.31 L830.07 116.89 L833.05 117.48 L836.04 118.06 L839.02 118.64 L842 119.22 L844.99 119.8 L847.97 120.38 L850.95 120.95 L853.94 121.52 L856.92 122.1 L859.91 122.67 L862.89 123.24 L865.87 123.8 L868.86 124.37 L871.84 124.93 L874.83 125.5 L877.81 126.06 L880.79 126.62 L883.78 127.17 L886.76 127.73 L889.74 128.28 L892.73 128.84 L895.71 129.39 L898.7 129.94 L901.68 130.49 L904.66 131.03 L907.65 131.58 L910.63 132.12 L913.61 132.66 L916.6 133.2 L919.58 133.74 L922.57 134.28 L925.55 134.81 L928.53 135.35 L931.52 135.88 L934.5 136.41 L937.49 136.94 L940.47 137.46 L943.45 137.99 L946.44 138.51 L949.42 139.03 L952.4 139.55 L955.39 140.07 L958.37 140.58 L961.36 141.1 L964.34 141.61 L967.32 142.12 L970.31 142.63 L973.29 143.14 L976.27 143.65 L979.26 144.15 L982.24 144.65 L985.23 145.15 L988.21 145.65 L991.19 146.15 L994.18 146.64 L997.16 147.14 L1000.15 147.63 L1003.13 148.12 L1006.11 148.61 L1009.1 149.09 L1012.08 149.58 L1015.06 150.06 L1018.05 150.54 L1021.03 151.02 L1024.02 151.5 L1027 151.97 L1030.05 152.46 L1033.1 152.93 L1036.14 153.41 L1039.19 153.88 L1042.24 154.34 L1045.29 154.8 L1048.34 155.26 L1051.39 155.72 L1054.43 156.17 L1057.48 156.62 L1060.53 157.07 L1063.58 157.51 L1066.63 157.96 L1069.67 158.4 L1072.72 158.84 L1075.77 159.27 L1078.82 159.71 L1081.87 160.15 L1084.91 160.58 L1087.96 161.02 L1091.01 161.45 L1094.06 161.88 L1097.11 162.32 L1100.16 162.75 L1103.2 163.19 L1106.25 163.62 L1109.3 164.06 L1112.33 164.5 L1115.37 164.93 L1118.4 165.37 L1121.44 165.8 L1124.47 166.23 L1127.5 166.67 L1130.54 167.1 L1133.57 167.53 L1136.61 167.96 L1139.64 168.4 L1142.68 168.83 L1145.71 169.26 L1148.74 169.69 L1151.78 170.12 L1154.81 170.54 L1157.85 170.97 L1160.88 171.4 L1163.91 171.83 L1166.95 172.25 L1169.98 172.68 L1173.02 173.1 L1176.05 173.53 L1179.09 173.95 L1182.12 174.38 L1185.15 174.8 L1188.19 175.22 L1191.22 175.64 L1194.26 176.06 L1197.29 176.48 L1200.32 176.9 L1203.36 177.32 L1206.39 177.74 L1209.43 178.16 L1212.46 178.58 L1215.5 178.99 L1218.53 179.41 L1221.56 179.83 L1224.6 180.24 L1227.63 180.65 L1230.67 181.07 L1233.7 181.48" stroke-dasharray="2.377 2.377"/>
<path d="M852.4 99.66 L855.47 100.22 L858.53 100.79 L861.6 101.35 L864.67 101.91 L867.73 102.48 L870.8 103.04 L873.87 103.6 L876.93 104.16 L880 104.71 L883.07 105.26 L886.13 105.82 L889.2 106.36 L892.27 106.91 L895.33 107.45 L898.4 107.98 L901.47 108.51 L904.53 109.04 L907.6 109.56 L910.6 110.07 L913.6 110.58 L916.6 111.08 L919.59 111.59 L922.59 112.09 L925.59 112.6 L928.59 113.1 L931.59 113.6 L934.59 114.1 L937.59 114.6 L940.59 115.1 L943.58 115.6 L946.58 116.1 L949.58 116.6 L952.58 117.1 L955.58 117.59 L958.58 118.09 L961.58 118.58 L964.58 119.08 L967.57 119.57 L970.57 120.06 L973.57 120.55 L976.57 121.04 L979.57 121.53 L982.57 122.02 L985.57 122.5 L988.56 122.99 L991.56 123.47 L994.56 123.96 L997.56 124.44 L1000.56 124.92 L1003.56 125.4 L1006.56 125.88 L1009.56 126.36 L1012.55 126.83 L1015.55 127.31 L1018.55 127.78 L1021.55 128.25 L1024.55 128.73 L1027.55 129.2 L1030.55 129.66 L1033.55 130.13 L1036.54 130.6 L1039.54 131.06 L1042.54 131.53 L1045.54 131.99 L1048.54 132.45 L1051.54 132.91 L1054.54 133.37 L1057.54 133.82 L1060.53 134.28 L1063.53 134.73 L1066.53 135.19 L1069.53 135.64 L1072.53 136.08 L1075.53 136.53 L1078.53 136.98 L1081.52 137.42 L1084.52 137.87 L1087.52 138.31 L1090.52 138.75 L1093.52 139.19 L1096.52 139.62 L1099.52 140.06 L1102.52 140.49 L1105.51 140.92 L1108.51 141.35 L1111.51 141.78 L1114.51 142.2 L1117.51 142.63 L1120.51 143.05 L1123.51 143.47 L1126.51 143.89 L1129.5 144.31 L1132.5 144.72 L1135.5 145.14 L1138.5 145.55 L1141.57 145.97 L1144.64 146.38 L1147.71 146.8 L1150.78 147.21 L1153.85 147.62 L1156.93 148.02 L1160 148.42 L1163.07 148.82 L1166.14 149.22 L1169.21 149.62 L1172.28 150.01 L1175.35 150.4 L1178.42 150.79 L1181.49 151.18 L1184.56 151.57 L1187.64 151.95 L1190.71 152.33 L1193.78 152.71 L1196.85 153.09 L1199.92 153.46 L1202.99 153.83 L1206.06 154.21 L1209.13 154.58 L1212.2 154.94 L1215.27 155.31 L1218.35 155.68 L1221.42 156.04 L1224.49 156.4 L1227.56 156.76 L1230.63 157.12 L1233.7 157.48" stroke-dasharray="2.366 2.366"/>
</g>
<path d="M415.3 402.2H454.9" stroke="#262626" stroke-width="1.6" stroke-dasharray="4.1 3" fill="none"/>
<g font-family="'Liberation Sans', Arial, Helvetica, sans-serif" text-rendering="geometricPrecision">
<text transform="matrix(1.043 0.0006 0 1 88.7 38.6)" font-size="18.3" font-weight="bold" fill="#1a1a1a" stroke="#1a1a1a" stroke-width="0.35">Q-n-η-flow rate / viscosity</text>
<text transform="matrix(1.07 0.0006 0 1 80.2 158)" font-size="11.2" text-anchor="end" fill="#222" stroke="#222" stroke-width="0.25">100</text>
<text transform="matrix(1.03 0.0006 0 1 79.5 290.35)" font-size="11.2" text-anchor="end" fill="#222" stroke="#222" stroke-width="0.25">10</text>
<text transform="matrix(1.06 0.0006 0 1 79.4 421.55)" font-size="11.2" text-anchor="end" fill="#222" stroke="#222" stroke-width="0.25">1</text>
<text transform="matrix(1.12 0.0006 0 1 80.85 554.3)" font-size="11.2" text-anchor="end" fill="#222" stroke="#222" stroke-width="0.25">0,1</text>
<text transform="matrix(1.09 0.0006 0 1 89.3 569.7)" font-size="11.2" text-anchor="middle" fill="#222" stroke="#222" stroke-width="0.25">0</text>
<text transform="matrix(1.09 0.0006 0 1 280.85 569.7)" font-size="11.2" text-anchor="middle" fill="#222" stroke="#222" stroke-width="0.25">500</text>
<text transform="matrix(1.09 0.0006 0 1 471.6 569.7)" font-size="11.2" text-anchor="middle" fill="#222" stroke="#222" stroke-width="0.25">1000</text>
<text transform="matrix(1.09 0.0006 0 1 662.35 569.7)" font-size="11.2" text-anchor="middle" fill="#222" stroke="#222" stroke-width="0.25">1500</text>
<text transform="matrix(1.09 0.0006 0 1 853.1 569.7)" font-size="11.2" text-anchor="middle" fill="#222" stroke="#222" stroke-width="0.25">2000</text>
<text transform="matrix(1.09 0.0006 0 1 1043.85 569.7)" font-size="11.2" text-anchor="middle" fill="#222" stroke="#222" stroke-width="0.25">2500</text>
<text transform="matrix(1.09 0.0006 0 1 1234.6 569.7)" font-size="11.2" text-anchor="middle" fill="#222" stroke="#222" stroke-width="0.25">3000</text>
<text transform="matrix(1.09 0.0006 0 1 664.7 585.9)" font-size="11.2" text-anchor="middle" fill="#222" stroke="#222" stroke-width="0.25">RPM (1/min)</text>
<text transform="translate(48.2 287.6) rotate(-90.03) scale(1.03 1.04)" font-size="11.5" text-anchor="middle" fill="#222" stroke="#222" stroke-width="0.2">FLOW RATE Q (<tspan font-weight="bold">l</tspan>/min)</text>
<text transform="matrix(1.017 0.0006 0 1 462 405.9)" font-size="12" fill="#222" stroke="#222" stroke-width="0.25">Dynamic viscosity η (mPas)</text>
<text transform="matrix(1.05 0.0006 0 1 857.8 96)" font-size="10.0" font-weight="bold" fill="#17a0d8" stroke="#17a0d8" stroke-width="0.2">ZK 50</text>
<text transform="matrix(1.05 0.0006 0 1 910.5 105.45)" font-size="10.0" font-weight="bold" fill="#17a0d8" stroke="#17a0d8" stroke-width="0.2">ZK 40</text>
<text transform="matrix(1.05 0.0006 0 1 1135 140.8)" font-size="10.0" font-weight="bold" fill="#17a0d8" stroke="#17a0d8" stroke-width="0.2">ZK 32</text>
<text transform="matrix(1.05 0.0006 0 1 1135 158.35)" font-size="10.0" font-weight="bold" fill="#17a0d8" stroke="#17a0d8" stroke-width="0.2">ZK 25</text>
<text transform="matrix(1.05 0.0006 0 1 1135 182)" font-size="10.0" font-weight="bold" fill="#17a0d8" stroke="#17a0d8" stroke-width="0.2">ZK 10</text>
<text transform="matrix(1.05 0.0006 0 1 1135 207.5)" font-size="10.0" font-weight="bold" fill="#17a0d8" stroke="#17a0d8" stroke-width="0.2">ZK 5</text>
<text transform="matrix(1.05 0.0006 0 1 1239 280.3)" font-size="10.0" font-weight="bold" fill="#17a0d8" stroke="#17a0d8" stroke-width="0.2">ZK 2</text>
<text transform="matrix(1.03 0.0006 0 1 1239.5 161.4)" font-size="10.0" font-weight="bold" fill="#484848" stroke="#484848" stroke-width="0.15">100</text>
<text transform="matrix(1.03 0.0006 0 1 1239.5 183.7)" font-size="10.0" font-weight="bold" fill="#484848" stroke="#484848" stroke-width="0.15">150</text>
<text transform="matrix(1.03 0.0006 0 1 1239.5 207.5)" font-size="10.0" font-weight="bold" fill="#484848" stroke="#484848" stroke-width="0.15">250</text>
<text transform="matrix(1.03 0.0006 0 1 1239.5 255.5)" font-size="10.0" font-weight="bold" fill="#484848" stroke="#484848" stroke-width="0.15">500</text>
<text transform="matrix(1.03 0.0006 0 1 1201.7 290.4)" font-size="10.0" font-weight="bold" fill="#484848" stroke="#484848" stroke-width="0.15">1000</text>
<text transform="matrix(1.03 0.0006 0 1 977 302.2)" font-size="10.0" font-weight="bold" fill="#484848" stroke="#484848" stroke-width="0.15">1500</text>
<text transform="matrix(1.03 0.0006 0 1 757 318.8)" font-size="10.0" font-weight="bold" fill="#484848" stroke="#484848" stroke-width="0.15">2500</text>
<text transform="matrix(1.03 0.0006 0 1 587 335.1)" font-size="10.0" font-weight="bold" fill="#484848" stroke="#484848" stroke-width="0.15">5000</text>
<text transform="matrix(1.03 0.0006 0 1 462.6 352.8)" font-size="10.0" font-weight="bold" fill="#484848" stroke="#484848" stroke-width="0.15">10000</text>
<text transform="matrix(1.03 0.0006 0 1 386 365.6)" font-size="10.0" font-weight="bold" fill="#484848" stroke="#484848" stroke-width="0.15">15000</text>
<text transform="matrix(1.03 0.0006 0 1 330.5 377.1)" font-size="10.0" font-weight="bold" fill="#484848" stroke="#484848" stroke-width="0.15">25000</text>
<text transform="matrix(1.03 0.0006 0 1 285.9 388.9)" font-size="10.0" font-weight="bold" fill="#484848" stroke="#484848" stroke-width="0.15">50000</text>
<text transform="matrix(1.03 0.0006 0 1 248.9 401)" font-size="10.0" font-weight="bold" fill="#484848" stroke="#484848" stroke-width="0.15">100000</text>
<text transform="matrix(1.03 0.0006 0 1 194 425.7)" font-size="10.0" font-weight="bold" fill="#484848" stroke="#484848" stroke-width="0.15">250000</text>
</g>
</svg>
</body>
</html>
